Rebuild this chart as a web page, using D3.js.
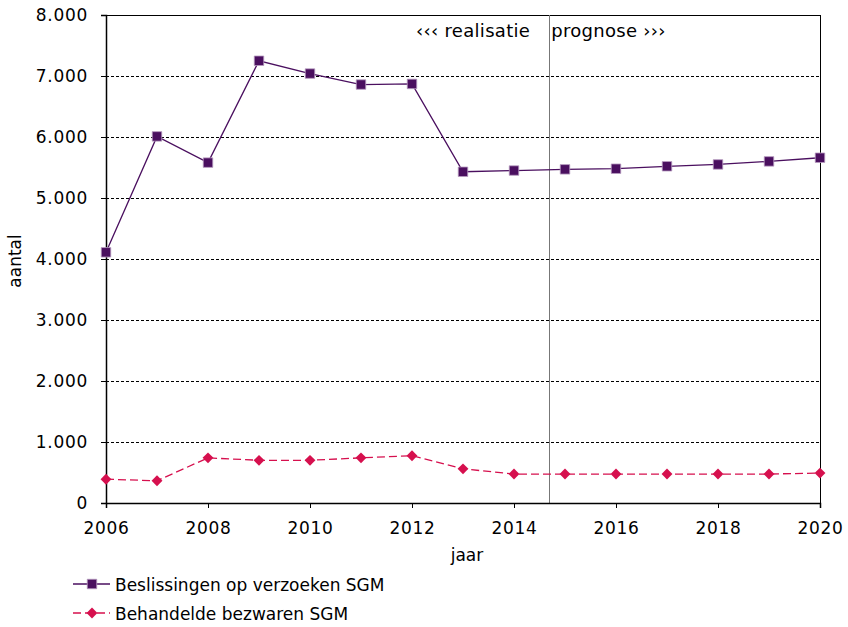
<!DOCTYPE html>
<html><head><meta charset="utf-8">
<script src="https://cdn.jsdelivr.net/npm/d3@7"></script>
<style>body{margin:0;background:#fff}svg{display:block}</style>
</head><body>
<script>
const years = [2006,2007,2008,2009,2010,2011,2012,2013,2014,2015,2016,2017,2018,2019,2020];
const beslissingen = [4110,6010,5580,7250,7040,6860,6870,5430,5450,5470,5480,5520,5550,5600,5660];
const bezwaren = [390,365,740,700,700,740,775,560,475,475,475,475,475,475,490];
const yTicks = [0,1000,2000,3000,4000,5000,6000,7000,8000];
const xTicks = [2006,2008,2010,2012,2014,2016,2018,2020];
const seriesNames = ["Beslissingen op verzoeken SGM","Behandelde bezwaren SGM"];
const splitYear = 2014.69;

const W=848,H=627;
const m={l:106,r:28,t:15,b:124};
const svg=d3.select("body").append("svg").attr("width",W).attr("height",H);
const x=d3.scaleLinear().domain([2006,2020]).range([m.l,W-m.r]);
const y=d3.scaleLinear().domain([0,8000]).range([H-m.b,m.t]);
const font="DejaVu Sans, Verdana, sans-serif";
const fmt=v=>v===0?"0":d3.format(",")(v).replace(/,/g,".");

// gridlines
svg.append("g").selectAll("line").data(yTicks.filter(v=>v>0&&v<8000)).join("line")
 .attr("x1",x(2006)).attr("x2",x(2020)).attr("y1",d=>y(d)).attr("y2",d=>y(d))
 .attr("stroke","#000").attr("stroke-width",1).attr("stroke-dasharray","3,2").attr("shape-rendering","crispEdges");

// frame top/right
svg.append("line").attr("x1",x(2006)).attr("x2",x(2020)).attr("y1",y(8000)).attr("y2",y(8000)).attr("stroke","#000").attr("shape-rendering","crispEdges");
svg.append("line").attr("x1",x(2020)).attr("x2",x(2020)).attr("y1",y(8000)).attr("y2",y(0)).attr("stroke","#000").attr("shape-rendering","crispEdges");

// split line
svg.append("line").attr("x1",x(splitYear)).attr("x2",x(splitYear)).attr("y1",y(8000)).attr("y2",y(0)).attr("stroke","#777").attr("shape-rendering","crispEdges");
svg.append("text").attr("x",x(splitYear)-19).attr("y",37).attr("text-anchor","end").attr("font-family",font).attr("font-size",18).attr("letter-spacing",0.3).text("‹‹‹ realisatie");
svg.append("text").attr("x",x(splitYear)+2).attr("y",37).attr("font-family",font).attr("font-size",18).attr("letter-spacing",0.3).text("prognose ›››");

// axes
const yAxis=svg.append("g").attr("transform",`translate(${m.l},0)`)
 .call(d3.axisLeft(y).tickValues(yTicks).tickFormat(fmt).tickSize(5).tickPadding(13));
const xAxis=svg.append("g").attr("transform",`translate(0,${H-m.b})`)
 .call(d3.axisBottom(x).tickValues(xTicks).tickFormat(d3.format("d")).tickSize(5).tickPadding(14));
[yAxis,xAxis].forEach(a=>{a.selectAll("text").attr("font-family",font).attr("font-size",17).attr("letter-spacing",0.7).attr("fill","#000");
 a.select(".domain").attr("stroke","#000").attr("stroke-width",1.5);a.selectAll(".tick line").attr("stroke","#000");});

svg.append("text").attr("transform",`translate(21,261) rotate(-90)`).attr("text-anchor","middle")
 .attr("font-family",font).attr("font-size",17).text("aantal");
svg.append("text").attr("x",467).attr("y",561).attr("text-anchor","middle")
 .attr("font-family",font).attr("font-size",17).text("jaar");

const purple="#4a0f5f", red="#d6104e";
const line=d3.line().x((d,i)=>x(years[i])).y(d=>y(d));
svg.append("path").datum(beslissingen).attr("d",line).attr("fill","none").attr("stroke",purple).attr("stroke-width",1.3);
svg.append("path").datum(bezwaren).attr("d",line).attr("fill","none").attr("stroke",red).attr("stroke-width",1.3).attr("stroke-dasharray","8,4");

const sq=d3.symbol().type(d3.symbolSquare).size(90);
const dm=d3.symbol().type(d3.symbolDiamond2).size(75);
svg.append("g").selectAll("path").data(beslissingen).join("path").attr("d",sq)
 .attr("transform",(d,i)=>`translate(${x(years[i])},${y(d)})`).attr("fill",purple).attr("stroke","#b79cc0").attr("stroke-width",0.8);
svg.append("g").selectAll("path").data(bezwaren).join("path").attr("d",dm)
 .attr("transform",(d,i)=>`translate(${x(years[i])},${y(d)})`).attr("fill",red);

// legend
const lg=svg.append("g");
const ly=[584,613];
lg.append("line").attr("x1",73).attr("x2",110).attr("y1",ly[0]).attr("y2",ly[0]).attr("stroke",purple).attr("stroke-width",1.3);
lg.append("path").attr("d",sq).attr("transform",`translate(92,${ly[0]})`).attr("fill",purple).attr("stroke","#b79cc0").attr("stroke-width",0.8);
lg.append("line").attr("x1",73).attr("x2",110).attr("y1",ly[1]).attr("y2",ly[1]).attr("stroke",red).attr("stroke-width",1.3).attr("stroke-dasharray","8,4");
lg.append("path").attr("d",dm).attr("transform",`translate(92,${ly[1]})`).attr("fill",red);
seriesNames.forEach((n,i)=>lg.append("text").attr("x",115).attr("y",ly[i]+7).attr("font-family",font).attr("font-size",17).text(n));
</script>
</body></html>
